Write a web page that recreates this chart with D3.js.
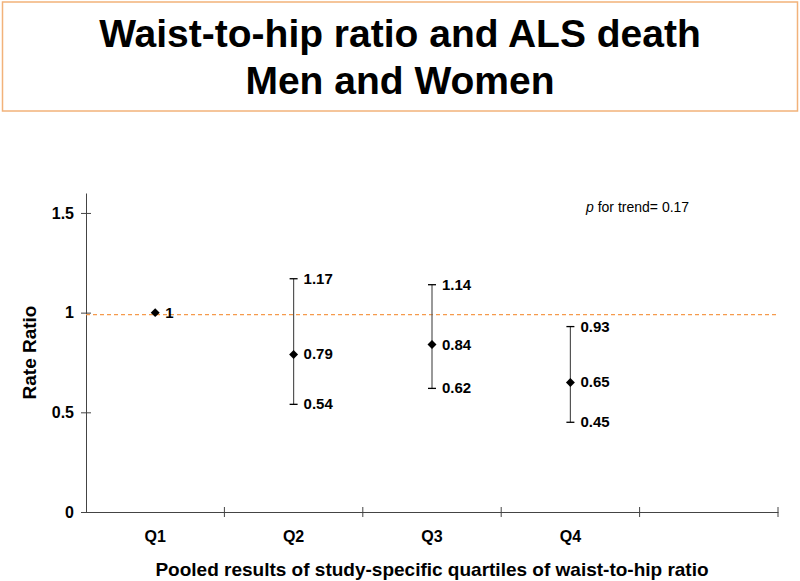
<!DOCTYPE html>
<html>
<head>
<meta charset="utf-8">
<script src="https://cdn.jsdelivr.net/npm/d3@7"></script>
<style>
  body { margin: 0; background: #fff; }
  svg { display: block; font-family: "Liberation Sans", Arial, sans-serif; }
</style>
</head>
<body>
<div id="chart"></div>
<script>
// quartile categories (5th slot is empty on the axis)
let categories = ["Q1", "Q2", "Q3", "Q4", ""];
let rateRatio = [1, 0.79, 0.84, 0.65];
let lowerCI = [null, 0.54, 0.62, 0.45];
let upperCI = [null, 1.17, 1.14, 0.93];
let yTicks = [0, 0.5, 1, 1.5];
let refValue = 0.99;

let width = 800, height = 581;
let margin = {top: 193, right: 22, bottom: 69, left: 86};

let svg = d3.select("#chart").append("svg")
    .attr("width", width)
    .attr("height", height);

// title box
svg.append("rect")
    .attr("x", 2.5).attr("y", 2)
    .attr("width", 795).attr("height", 109)
    .attr("fill", "#fff")
    .attr("stroke", "#f2b27a")
    .attr("stroke-width", 1.5);

let titleLines = ["Waist-to-hip ratio and ALS death", "Men and Women"];
svg.selectAll(".title")
    .data(titleLines)
    .enter().append("text")
    .attr("class", "title")
    .attr("x", 400)
    .attr("y", (d, i) => 47 + i * 47)
    .attr("text-anchor", "middle")
    .style("font-weight", "bold")
    .style("font-size", "39px")
    .text(d => d);

let x = d3.scaleBand()
    .domain(categories)
    .range([margin.left, width - margin.right]);

let y = d3.scaleLinear()
    .domain([0, 1.6])
    .range([height - margin.bottom, margin.top]);

// y axis
let yAxis = svg.append("g")
    .attr("transform", "translate(" + margin.left + ",0)")
    .call(d3.axisLeft(y).tickValues(yTicks).tickFormat(d => d).tickSizeInner(5).tickSizeOuter(0));
yAxis.select(".domain").attr("stroke", "#444");
yAxis.selectAll(".tick line").attr("stroke", "#444").attr("x2", 5).attr("x1", -5);
yAxis.selectAll(".tick text")
    .attr("x", -12)
    .style("font-size", "16px")
    .style("font-weight", "bold")
    .attr("fill", "#000");

// x axis
let xAxis = svg.append("g")
    .attr("transform", "translate(0," + y(0) + ")")
    .call(d3.axisBottom(x).tickSize(0).tickSizeOuter(0));
xAxis.select(".domain").attr("stroke", "#444");
xAxis.selectAll(".tick text")
    .attr("y", 19)
    .style("font-size", "16px")
    .style("font-weight", "bold")
    .attr("fill", "#000");
// category boundary ticks
let bounds = categories.map(c => x(c)).concat([x.range()[1]]).slice(1);
xAxis.selectAll(".bound")
    .data(bounds)
    .enter().append("line")
    .attr("x1", d => d).attr("x2", d => d)
    .attr("y1", -5).attr("y2", 5)
    .attr("stroke", "#444");

// axis titles
svg.append("text")
    .attr("transform", "translate(36," + y(0.8) + ") rotate(-90)")
    .attr("text-anchor", "middle")
    .style("font-size", "19px")
    .style("font-weight", "bold")
    .text("Rate Ratio");

svg.append("text")
    .attr("x", 432)
    .attr("y", 576)
    .attr("text-anchor", "middle")
    .style("font-size", "19px")
    .style("font-weight", "bold")
    .text("Pooled results of study-specific quartiles of waist-to-hip ratio");

// reference line
svg.append("line")
    .attr("x1", margin.left).attr("x2", width - margin.right)
    .attr("y1", y(refValue)).attr("y2", y(refValue))
    .attr("stroke", "#f59a4c")
    .attr("stroke-width", 1.3)
    .attr("stroke-dasharray", "4,3");

let pts = rateRatio.map((v, i) => ({cat: categories[i], rr: v, lo: lowerCI[i], hi: upperCI[i]}));
let cx = d => x(d.cat) + x.bandwidth() / 2;

// error bars
let ci = pts.filter(d => d.lo != null);
svg.selectAll(".whisker")
    .data(ci)
    .enter().append("line")
    .attr("x1", cx).attr("x2", cx)
    .attr("y1", d => y(d.lo)).attr("y2", d => y(d.hi))
    .attr("stroke", "#555")
    .attr("stroke-width", 1.2);

["lo", "hi"].forEach(k => {
    svg.selectAll(".cap-" + k)
        .data(ci)
        .enter().append("line")
        .attr("x1", d => cx(d) - 4).attr("x2", d => cx(d) + 4)
        .attr("y1", d => y(d[k])).attr("y2", d => y(d[k]))
        .attr("stroke", "#000")
        .attr("stroke-width", 1.3);
    svg.selectAll(".lab-" + k)
        .data(ci)
        .enter().append("text")
        .attr("x", d => cx(d) + 10)
        .attr("y", d => y(d[k]) + 5)
        .style("font-size", "15px")
        .style("font-weight", "bold")
        .text(d => d[k]);
});

// point estimates (square turned 45 degrees)
svg.selectAll(".pt")
    .data(pts)
    .enter().append("path")
    .attr("d", d3.symbol().type(d3.symbolSquare).size(40))
    .attr("transform", d => "translate(" + cx(d) + "," + y(d.rr) + ") rotate(45)")
    .attr("fill", "#000");

svg.selectAll(".pt-lab")
    .data(pts)
    .enter().append("text")
    .attr("x", d => cx(d) + 10)
    .attr("y", d => y(d.rr) + 5)
    .style("font-size", "15px")
    .style("font-weight", "bold")
    .text(d => d.rr);

// trend note
let note = svg.append("text")
    .attr("x", 586)
    .attr("y", 212)
    .style("font-size", "14px");
note.append("tspan").style("font-style", "italic").text("p");
note.append("tspan").text(" for trend= 0.17");
</script>
</body>
</html>
